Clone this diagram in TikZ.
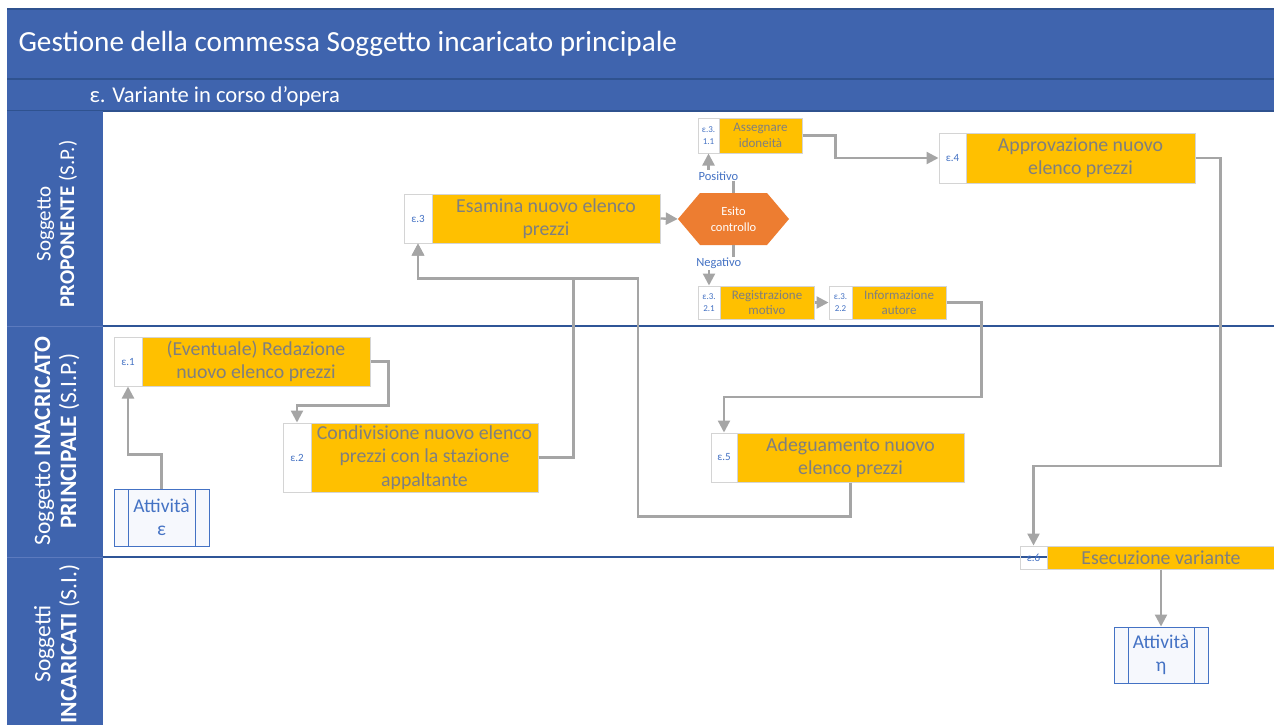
\documentclass[tikz,border=0pt]{standalone}
\usepackage{fontspec}
\setmainfont{Carlito}
\usetikzlibrary{arrows.meta}

\definecolor{hdrblue}{RGB}{63,100,174}
\definecolor{hdrline}{RGB}{47,82,143}
\definecolor{colsep}{RGB}{92,122,190}
\definecolor{laneline}{RGB}{47,85,151}
\definecolor{taskor}{RGB}{255,192,0}
\definecolor{hexor}{RGB}{237,125,49}
\definecolor{txtgray}{RGB}{127,127,127}
\definecolor{numblue}{RGB}{68,114,196}
\definecolor{conngray}{RGB}{165,165,165}
\definecolor{boxline}{RGB}{212,212,212}
\definecolor{procfill}{RGB}{246,248,253}
\definecolor{procline}{RGB}{68,114,196}

\begin{document}
\begin{tikzpicture}[x=1pt,y=-1pt,
  numbox/.style={draw=boxline, line width=1pt, fill=white, text=numblue,
    inner sep=0pt, align=center, font=\fontsize{11}{13}\selectfont},
  smallnum/.style={numbox, font=\fontsize{9}{12}\selectfont},
  taskbox/.style={draw=boxline, line width=1pt, fill=taskor, text=txtgray,
    inner sep=0pt, align=center, font=\fontsize{19.8}{23.5}\selectfont},
  smalltask/.style={taskbox, font=\fontsize{13}{15.5}\selectfont},
  hexa/.style={minimum width=111, minimum height=52, inner sep=0pt,
    text=white, align=center, font=\fontsize{12.5}{16}\selectfont,
    path picture={\fill[hexor] (path picture bounding box.west)
      -- ([xshift=22pt]path picture bounding box.north west)
      -- ([xshift=-22pt]path picture bounding box.north east)
      -- (path picture bounding box.east)
      -- ([xshift=-22pt]path picture bounding box.south east)
      -- ([xshift=22pt]path picture bounding box.south west) -- cycle;}},
  procbox/.style={draw=procline, line width=1pt, fill=procfill, text=procline,
    inner sep=0pt, align=center, font=\fontsize{19.5}{23}\selectfont,
    path picture={\draw[procline, line width=1pt]
      ([xshift=14pt]path picture bounding box.north west)
      -- ([xshift=14pt]path picture bounding box.south west)
      ([xshift=-14pt]path picture bounding box.north east)
      -- ([xshift=-14pt]path picture bounding box.south east);}},
  lanelabel/.style={rotate=90, text=white, align=center,
    font=\fontsize{23.5}{26}\selectfont},
  branch/.style={fill=white, text=numblue, inner sep=1pt,
    font=\fontsize{12.5}{14}\selectfont},
  conn/.style={draw=conngray, line width=2.3pt,
    -{Triangle[width=12pt,length=12pt]}},
]
\useasboundingbox (0,0) rectangle (1274,724);
\clip (0,0) rectangle (1274,724);
\fill[white] (0,0) rectangle (1274,724);

% title band and phase band
\fill[hdrblue] (7,9) rectangle (1280,111);
\draw[hdrline, line width=1.2pt] (7,9) -- (1280,9);
\draw[hdrline, line width=1.2pt] (7,79) -- (1280,79);
\draw[hdrline, line width=1.2pt] (7,111) -- (1280,111);
\node[anchor=west, text=white, font=\fontsize{29.2}{34}\selectfont] (title) at (15,44)
  {Gestione della commessa Soggetto incaricato principale};
\node[anchor=west, text=white, font=\fontsize{22.6}{26}\selectfont] (phase) at (86,96)
  {ε. Variante in corso d’opera};

% swimlane header column
\fill[hdrblue] (7,111) rectangle (103,740);
\draw[colsep, line width=1pt] (7,326) -- (103,326);
\draw[colsep, line width=1pt] (7,557) -- (103,557);
\node[lanelabel, font=\fontsize{21}{23.5}\selectfont] (lane1) at (57,224)
  {Soggetto\\\textbf{PROPONENTE} (S.P.)};
\node[lanelabel] (lane2) at (57,441) {Soggetto \textbf{INACRICATO}\\\textbf{PRINCIPALE} (S.I.P.)};
\node[lanelabel] (lane3) at (57,644) {Soggetti\\\textbf{INCARICATI} (S.I.)};

% lane separators
\draw[laneline, line width=1.3pt] (103,326) -- (1280,326);
\draw[laneline, line width=1.3pt] (103,557) -- (1280,557);

% activities of the proponent
\node[numbox, minimum width=28, minimum height=49] (e3n) at (418,218.5) {ε.3};
\node[taskbox, minimum width=228, minimum height=49] (e3o) at (546,218.5) {Esamina nuovo elenco\\prezzi};
\node[hexa] (hx) at (733.5,219) {Esito\\controllo};
\node[smallnum, minimum width=21, minimum height=35] (e311n) at (708.5,135.5) {ε.3.\\1.1};
\node[smalltask, minimum width=83, minimum height=35] (e311o) at (760.5,135.5) {Assegnare\\idoneità};
\node[numbox, minimum width=27, minimum height=50] (e4n) at (952.5,158) {ε.4};
\node[taskbox, minimum width=229, minimum height=50] (e4o) at (1080.5,158) {Approvazione nuovo\\elenco prezzi};
\node[smallnum, minimum width=22, minimum height=33] (e321n) at (709,302.5) {ε.3.\\2.1};
\node[smalltask, minimum width=94, minimum height=33] (e321o) at (767,302.5) {Registrazione\\motivo};
\node[smallnum, minimum width=23, minimum height=33] (e322n) at (840.5,302.5) {ε.3.\\2.2};
\node[smalltask, minimum width=94, minimum height=33] (e322o) at (899,302.5) {Informazione\\autore};

% activities of the main contractor
\node[numbox, minimum width=28, minimum height=49] (e1n) at (128,361.5) {ε.1};
\node[taskbox, minimum width=228, minimum height=49] (e1o) at (256,361.5) {(Eventuale) Redazione\\nuovo elenco prezzi};
\node[numbox, minimum width=28, minimum height=69] (e2n) at (297,457.5) {ε.2};
\node[taskbox, minimum width=227, minimum height=69] (e2o) at (424.5,457.5) {Condivisione nuovo elenco\\prezzi con la stazione\\appaltante};
\node[numbox, minimum width=26, minimum height=49] (e5n) at (724,457.5) {ε.5};
\node[taskbox, minimum width=227, minimum height=49] (e5o) at (850.5,457.5) {Adeguamento nuovo\\elenco prezzi};
\node[procbox, minimum width=95, minimum height=57] (ae) at (161.5,517.5) {Attività\\ε};

% activities of the subcontractors
\node[numbox, fill=none, minimum width=27, minimum height=23] (e6n) at (1033.5,557.5) {ε.6};
\node[taskbox, minimum width=228, minimum height=23] (e6o) at (1161,557.5) {Esecuzione variante};
\node[procbox, minimum width=94, minimum height=56] (ah) at (1161,655) {Attività\\η};

% flow
\draw[conn] (ae.north) -- ++(0,-34) -| (e1n.south);
\draw[conn] (e1o.east) -- ++(18,0) -- ++(0,44) -| (e2n.north);
\draw[conn] (e2o.east) -- ++(35,0) -- ++(0,-179.5) -| (e3n.south);
\draw[conn] (e5o.south) -- ++(0,34) -- ++(-212.5,0) -- ++(0,-238) -| (e3n.south);
\draw[conn] (e3o.east) -- (hx.west);
\draw[conn] (hx.north) -- ++(0,-17) -| (e311n.south)
  node[branch, pos=0.3] (pos) {Positivo};
\draw[conn] (hx.south) -- ++(0,18) -| (e321n.north)
  node[branch, pos=0.3] (neg) {Negativo};
\draw[conn] (e311o.east) -- ++(33,0) |- (e4n.west);
\draw[conn] (e321o.east) -- (e322n.west);
\draw[conn] (e322o.east) -- ++(35,0) -- ++(0,94.5) -| (e5n.north);
\draw[conn] (e4o.east) -- ++(25,0) -- ++(0,308) -| (e6n.north);
\draw[conn] (e6o.south) -- (ah.north);
\end{tikzpicture}
\end{document}
